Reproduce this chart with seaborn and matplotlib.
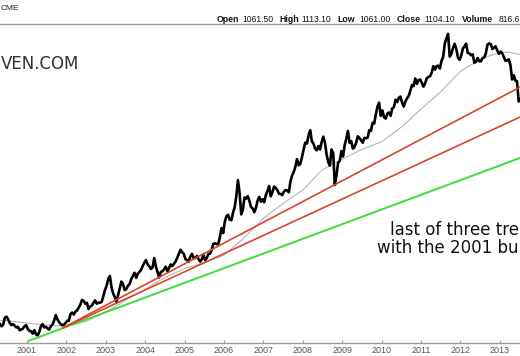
import numpy as np
import pandas as pd
import matplotlib
matplotlib.use("Agg")
import matplotlib.pyplot as plt
from matplotlib.ticker import NullLocator
import seaborn as sns

# ---- data (semi-monthly gold prices, USD/oz) ----
p2000 = [280, 276, 272, 275, 288, 290, 285, 278, 274, 276, 273, 270, 271, 265, 266, 268, 272, 274]  # from Apr
p2001 = [267, 264, 263, 259, 265, 258, 256, 262, 272, 276, 270, 271, 268, 266, 272, 275, 282, 293, 285, 280, 276, 274, 275, 278]
p2002 = [282, 282, 295, 298, 294, 300, 302, 308, 314, 324, 322, 316, 318, 305, 310, 312, 318, 323, 316, 318, 318, 320, 332, 346]
p2003 = [356, 372, 380, 352, 338, 330, 320, 335, 350, 366, 360, 346, 348, 356, 360, 372, 380, 388, 375, 386, 390, 396, 406, 415]
p2004 = [422, 410, 405, 398, 402, 428, 405, 390, 376, 390, 392, 397, 404, 392, 400, 410, 406, 412, 418, 428, 440, 452, 445, 440]
p2005 = [425, 422, 418, 432, 440, 428, 428, 434, 425, 418, 425, 437, 422, 428, 440, 440, 452, 470, 472, 470, 468, 492, 522, 505]
p2006 = [545, 565, 570, 552, 550, 578, 600, 645, 718, 660, 572, 590, 640, 635, 645, 625, 600, 595, 580, 598, 628, 642, 622, 632]
p2007 = [620, 650, 668, 690, 645, 662, 688, 682, 672, 656, 655, 650, 665, 672, 670, 662, 712, 740, 758, 785, 825, 792, 800, 836]
p2008 = [880, 920, 915, 965, 1000, 930, 915, 885, 875, 900, 880, 925, 958, 920, 850, 810, 790, 880, 860, 695, 740, 805, 815, 870]
p2009 = [840, 905, 945, 995, 920, 930, 885, 895, 920, 960, 950, 935, 920, 950, 948, 952, 1000, 995, 1050, 1045, 1110, 1170, 1200, 1100]
p2010 = [1140, 1090, 1080, 1115, 1125, 1100, 1155, 1165, 1225, 1205, 1240, 1250, 1200, 1170, 1210, 1235, 1255, 1300, 1350, 1340, 1410, 1360, 1395, 1400]
p2011 = [1370, 1335, 1365, 1410, 1425, 1430, 1465, 1530, 1495, 1530, 1535, 1505, 1585, 1625, 1780, 1840, 1895, 1630, 1660, 1725, 1775, 1715, 1620, 1595]
p2012 = [1640, 1720, 1745, 1775, 1670, 1665, 1645, 1655, 1565, 1575, 1615, 1580, 1580, 1615, 1620, 1665, 1765, 1780, 1770, 1715, 1730, 1745, 1695, 1660]
p2013 = [1685, 1665, 1625, 1585, 1590, 1600, 1540, 1400, 1440, 1390, 1385, 1210, 1230]

# slow moving average (grey curve) read at half-year points
ma_years = [2000.30, 2000.5, 2001.0, 2001.5, 2002.0, 2002.5, 2003.0, 2003.5, 2004.0, 2004.5,
            2005.0, 2005.5, 2006.0, 2006.5, 2007.0, 2007.5, 2008.0, 2008.5, 2009.0, 2009.5,
            2010.0, 2010.5, 2011.0, 2011.5, 2012.0, 2012.5, 2012.75, 2013.0, 2013.2, 2013.55]
ma_values = [283, 282, 278, 274, 272, 281, 299, 323, 348, 376,
             399, 415, 436, 488, 557, 615, 672, 770, 825, 880,
             926, 1020, 1150, 1290, 1478, 1600, 1640, 1672, 1680, 1650]

# trend lines: ([start year, end year], [start price, end price])
green_line = ([2001.05, 2013.52], [247, 832])
red_upper = ([2001.91, 2013.52], [269, 1332])
red_lower = ([2001.91, 2013.52], [269, 1092])

year_ticks = list(range(2001, 2014))
year_labels = [str(y) for y in year_ticks]

header_parts = [("Open", True), ("1061.50", False), ("High", True), ("1113.10", False),
                ("Low", True), ("1061.00", False), ("Close", True), ("1104.10", False),
                ("Volume", True), ("816.6", False)]
header_x = [217, 242, 279, 301, 337, 359, 397, 424, 462, 499]

# ---- build table ----
blocks = [(2000, 3, p2000), (2001, 0, p2001), (2002, 0, p2002), (2003, 0, p2003),
          (2004, 0, p2004), (2005, 0, p2005), (2006, 0, p2006), (2007, 0, p2007),
          (2008, 0, p2008), (2009, 0, p2009), (2010, 0, p2010), (2011, 0, p2011),
          (2012, 0, p2012), (2013, 0, p2013)]
rows = []
for yr, m0, vals in blocks:
    for i, v in enumerate(vals):
        rows.append((yr + (m0 * 2 + i + 0.5) / 24.0, v))
price = pd.DataFrame(rows, columns=["year", "price"])
ma = pd.DataFrame({"year": ma_years, "price": ma_values})

# ---- figure ----
sns.set_style("white")
plt.rcParams["font.family"] = ["DejaVu Sans"]

W, H = 520, 356
fig = plt.figure(figsize=(W / 100, H / 100), dpi=100)
fig.patch.set_facecolor("white")
ax = fig.add_axes([0, 13 / H, 1, 319 / H])

sns.lineplot(data=ma, x="year", y="price", ax=ax, color="#b5b5b5", lw=0.8,
             estimator=None, sort=False)
sns.lineplot(data=price, x="year", y="price", ax=ax, color="black", lw=1.9,
             estimator=None, sort=False)
sns.lineplot(x=green_line[0], y=green_line[1], ax=ax, color="#3ddc3d", lw=1.4)
sns.lineplot(x=red_lower[0], y=red_lower[1], ax=ax, color="#d8462a", lw=1.2)
sns.lineplot(x=red_upper[0], y=red_upper[1], ax=ax, color="#d8462a", lw=1.2)

ax.set_yscale("log")
ax.set_ylim(243.4, 2024)
ax.set_xlim(2000.315, 2013.513)
ax.yaxis.set_major_locator(NullLocator())
ax.yaxis.set_minor_locator(NullLocator())
ax.set_xticks(year_ticks)
ax.set_xticklabels(year_labels, family="Liberation Sans")
ax.tick_params(axis="x", bottom=True, direction="in", length=2, width=0.8,
               color="#999999", labelsize=6.5, labelcolor="#555555", pad=2.5)
ax.set_xlabel("")
ax.set_ylabel("")
for s in ("left", "right"):
    ax.spines[s].set_visible(False)
for s in ("top", "bottom"):
    ax.spines[s].set_color("#9a9a9a")
    ax.spines[s].set_linewidth(1.0)

def fx(px):
    return px / W

def fy(py):
    return 1 - py / H

fig.text(fx(1), fy(9), "CME", family="Liberation Sans", fontsize=6.0,
         color="#222222", va="center", ha="left")
for (txt, bold), x in zip(header_parts, header_x):
    fig.text(fx(x), fy(19.5), txt, family="Liberation Sans",
             fontsize=6.3 if bold else 6.2, fontweight="bold" if bold else "normal",
             color="#111111", va="center", ha="left")

fig.text(fx(0.5), fy(64), "VEN.COM", fontsize=12, color="#333333",
         va="center", ha="left")
fig.text(fx(390), fy(235), "last of three tre", fontsize=12, color="#111111",
         va="baseline", ha="left")
fig.text(fx(377), fy(252.7), "with the 2001 bu", fontsize=12, color="#111111",
         va="baseline", ha="left")

fig.savefig("out.png", dpi=100)
